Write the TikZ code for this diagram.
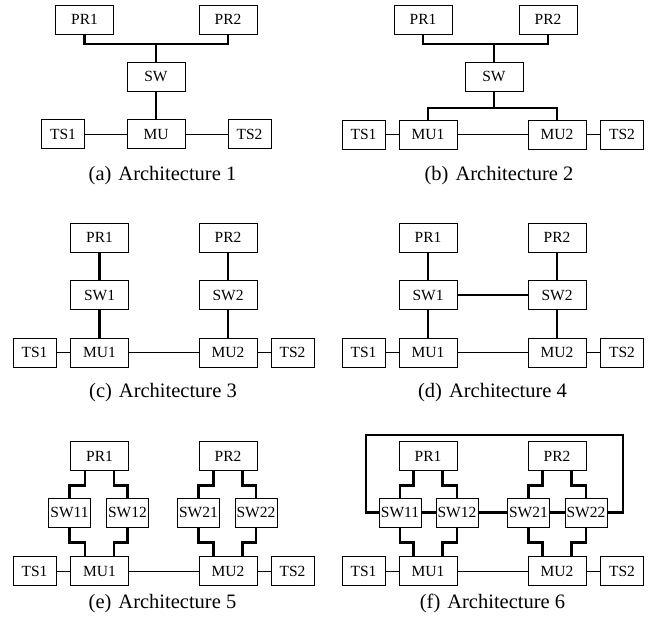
\documentclass[tikz,border=0pt]{standalone}
\usepackage{fontspec}
\setmainfont{Liberation Serif}
\begin{document}
\begin{tikzpicture}[x=1pt,y=-1pt,
  box/.style={draw, line width=0.7pt, inner sep=0pt, minimum height=29pt,
              font=\fontsize{15.5}{18}\selectfont},
  wbox/.style={box, minimum width=58pt},
  nbox/.style={box, minimum width=43pt},
  sbox/.style={box, minimum width=42pt},
  bus/.style={line width=2.9pt},
  wire/.style={line width=0.8pt},
  capt/.style={anchor=base, font=\fontsize{20.5}{24}\selectfont},
]
\useasboundingbox (0,0) rectangle (654,624);

% ---------- (a) ----------
\node[wbox] (a-pr1) at (84.5,19.5) {PR1};
\node[wbox] (a-pr2) at (228,19.5) {PR2};
\node[wbox] (a-sw) at (156,76.5) {SW};
\node[wbox] (a-mu) at (156,134) {MU};
\node[nbox] (a-ts1) at (63,134) {TS1};
\node[nbox] (a-ts2) at (249.5,134) {TS2};
\coordinate (a-j) at (156,44);
\draw[bus] (a-pr1.south) |- (a-j) -| (a-pr2.south);
\draw[bus] (a-j) -- (a-sw.north);
\draw[bus] (a-sw.south) -- (a-mu.north);
\draw[wire] (a-ts1) -- (a-mu);
\draw[wire] (a-mu) -- (a-ts2);
\node[capt] at (162.5,180) {(a)\hspace{7pt}Architecture 1};

% ---------- (b) ----------
\node[wbox] (b-pr1) at (423,19.5) {PR1};
\node[wbox] (b-pr2) at (548,19.5) {PR2};
\node[wbox] (b-sw) at (494,76.5) {SW};
\node[wbox] (b-mu1) at (428,134.5) {MU1};
\node[wbox] (b-mu2) at (557,134.5) {MU2};
\node[nbox] (b-ts1) at (363.5,134.5) {TS1};
\node[nbox] (b-ts2) at (622,134.5) {TS2};
\coordinate (b-j1) at (494,44);
\coordinate (b-j2) at (494,108);
\draw[bus] (b-pr1.south) |- (b-j1) -| (b-pr2.south);
\draw[bus] (b-j1) -- (b-sw.north);
\draw[bus] (b-sw.south) -- (b-j2);
\draw[bus] (b-mu1.north) |- (b-j2) -| (b-mu2.north);
\draw[wire] (b-ts1) -- (b-mu1);
\draw[wire] (b-mu1) -- (b-mu2);
\draw[wire] (b-mu2) -- (b-ts2);
\node[capt] at (499,180) {(b)\hspace{7pt}Architecture 2};

% ---------- (c) ----------
\node[wbox] (c-pr1) at (99.5,237.5) {PR1};
\node[wbox] (c-pr2) at (228,237.5) {PR2};
\node[wbox] (c-sw1) at (99.5,295) {SW1};
\node[wbox] (c-sw2) at (228,295) {SW2};
\node[wbox] (c-mu1) at (99.5,352.5) {MU1};
\node[wbox] (c-mu2) at (228,352.5) {MU2};
\node[nbox] (c-ts1) at (34.5,352.5) {TS1};
\node[nbox] (c-ts2) at (292.5,352.5) {TS2};
\draw[bus] (c-pr1) -- (c-sw1);
\draw[bus] (c-sw1) -- (c-mu1);
\draw[bus] (c-pr2) -- (c-sw2);
\draw[bus] (c-sw2) -- (c-mu2);
\draw[wire] (c-ts1) -- (c-mu1);
\draw[wire] (c-mu1) -- (c-mu2);
\draw[wire] (c-mu2) -- (c-ts2);
\node[capt] at (163,397) {(c)\hspace{7pt}Architecture 3};

% ---------- (d) ----------
\node[wbox] (d-pr1) at (428,237.5) {PR1};
\node[wbox] (d-pr2) at (557,237.5) {PR2};
\node[wbox] (d-sw1) at (428,295) {SW1};
\node[wbox] (d-sw2) at (557,295) {SW2};
\node[wbox] (d-mu1) at (428,352.5) {MU1};
\node[wbox] (d-mu2) at (557,352.5) {MU2};
\node[nbox] (d-ts1) at (363.5,352.5) {TS1};
\node[nbox] (d-ts2) at (622,352.5) {TS2};
\draw[bus] (d-pr1) -- (d-sw1);
\draw[bus] (d-sw1) -- (d-mu1);
\draw[bus] (d-pr2) -- (d-sw2);
\draw[bus] (d-sw2) -- (d-mu2);
\draw[bus] (d-sw1) -- (d-sw2);
\draw[wire] (d-ts1) -- (d-mu1);
\draw[wire] (d-mu1) -- (d-mu2);
\draw[wire] (d-mu2) -- (d-ts2);
\node[capt] at (492.5,397) {(d)\hspace{7pt}Architecture 4};

% ---------- (e) ----------
\node[wbox] (e-pr1) at (99.5,456) {PR1};
\node[wbox] (e-pr2) at (228,456) {PR2};
\node[sbox] (e-sw11) at (69.5,512.5) {SW11};
\node[sbox] (e-sw12) at (127.5,512.5) {SW12};
\node[sbox] (e-sw21) at (198.5,512.5) {SW21};
\node[sbox] (e-sw22) at (256,512.5) {SW22};
\node[wbox] (e-mu1) at (99.5,571) {MU1};
\node[wbox] (e-mu2) at (228,571) {MU2};
\node[nbox] (e-ts1) at (34.5,571) {TS1};
\node[nbox] (e-ts2) at (292.5,571) {TS2};
\draw[bus] ([xshift=-14.5pt]e-pr1.south) -- ++(0,14.5) -| (e-sw11.north);
\draw[bus] ([xshift=14.5pt]e-pr1.south) -- ++(0,14.5) -| (e-sw12.north);
\draw[bus] (e-sw11.south) -- ++(0,15) -| ([xshift=-14.5pt]e-mu1.north);
\draw[bus] (e-sw12.south) -- ++(0,15) -| ([xshift=14.5pt]e-mu1.north);
\draw[bus] ([xshift=-14.5pt]e-pr2.south) -- ++(0,14.5) -| (e-sw21.north);
\draw[bus] ([xshift=14.5pt]e-pr2.south) -- ++(0,14.5) -| (e-sw22.north);
\draw[bus] (e-sw21.south) -- ++(0,15) -| ([xshift=-14.5pt]e-mu2.north);
\draw[bus] (e-sw22.south) -- ++(0,15) -| ([xshift=14.5pt]e-mu2.north);
\draw[wire] (e-ts1) -- (e-mu1);
\draw[wire] (e-mu1) -- (e-mu2);
\draw[wire] (e-mu2) -- (e-ts2);
\node[capt] at (162.5,608) {(e)\hspace{7pt}Architecture 5};

% ---------- (f) ----------
\node[wbox] (f-pr1) at (428,456) {PR1};
\node[wbox] (f-pr2) at (557,456) {PR2};
\node[sbox] (f-sw11) at (400,512.5) {SW11};
\node[sbox] (f-sw12) at (457,512.5) {SW12};
\node[sbox] (f-sw21) at (528.5,512.5) {SW21};
\node[sbox] (f-sw22) at (586,512.5) {SW22};
\node[wbox] (f-mu1) at (428,571) {MU1};
\node[wbox] (f-mu2) at (557,571) {MU2};
\node[nbox] (f-ts1) at (363.5,571) {TS1};
\node[nbox] (f-ts2) at (622,571) {TS2};
\coordinate (f-tl) at (366,435);
\coordinate (f-tr) at (623,435);
\draw[bus] (f-sw11.west) -| (f-tl) -- (f-tr) |- (f-sw22.east);
\draw[bus] (f-sw11) -- (f-sw12);
\draw[bus] (f-sw12) -- (f-sw21);
\draw[bus] (f-sw21) -- (f-sw22);
\draw[bus] ([xshift=-14.5pt]f-pr1.south) -- ++(0,14.5) -| (f-sw11.north);
\draw[bus] ([xshift=14.5pt]f-pr1.south) -- ++(0,14.5) -| (f-sw12.north);
\draw[bus] (f-sw11.south) -- ++(0,15) -| ([xshift=-14.5pt]f-mu1.north);
\draw[bus] (f-sw12.south) -- ++(0,15) -| ([xshift=14.5pt]f-mu1.north);
\draw[bus] ([xshift=-14.5pt]f-pr2.south) -- ++(0,14.5) -| (f-sw21.north);
\draw[bus] ([xshift=14.5pt]f-pr2.south) -- ++(0,14.5) -| (f-sw22.north);
\draw[bus] (f-sw21.south) -- ++(0,15) -| ([xshift=-14.5pt]f-mu2.north);
\draw[bus] (f-sw22.south) -- ++(0,15) -| ([xshift=14.5pt]f-mu2.north);
\draw[wire] (f-ts1) -- (f-mu1);
\draw[wire] (f-mu1) -- (f-mu2);
\draw[wire] (f-mu2) -- (f-ts2);
\node[capt] at (492.5,608) {(f)\hspace{7pt}Architecture 6};
\end{tikzpicture}
\end{document}
